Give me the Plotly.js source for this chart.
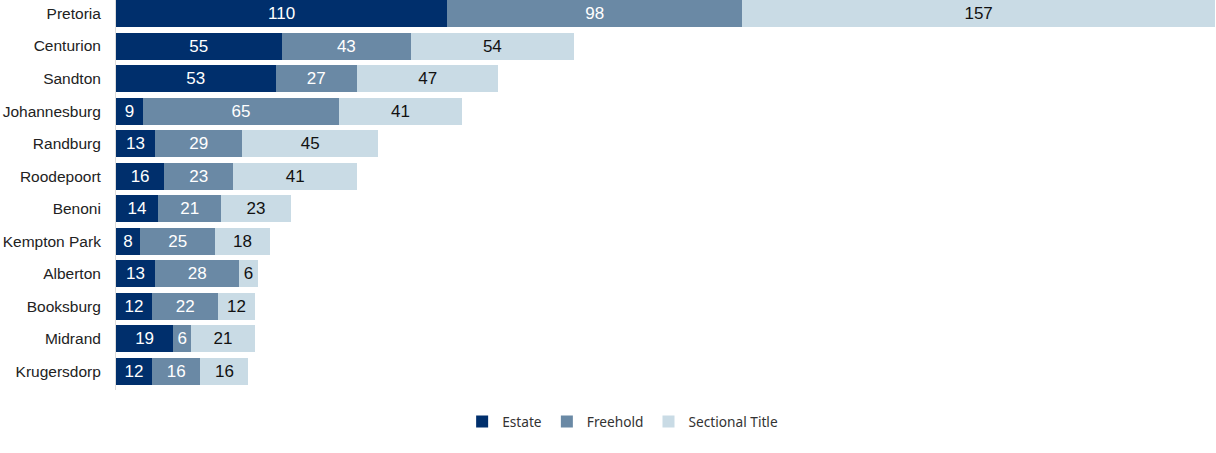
<!DOCTYPE html>
<html><head><meta charset="utf-8">
<script src="https://cdn.plot.ly/plotly-3.0.1.min.js"></script>
<style>html,body{margin:0;padding:0;background:#fff}#c{width:1216px;height:453px}</style>
</head><body><div id="c"></div>
<script>
const areas = ["Pretoria","Centurion","Sandton","Johannesburg","Randburg","Roodepoort","Benoni","Kempton Park","Alberton","Booksburg","Midrand","Krugersdorp"];
const estate = [110,55,53,9,13,16,14,8,13,12,19,12];
const freehold = [98,43,27,65,29,23,21,25,28,22,6,16];
const sectional = [157,54,47,41,45,41,23,18,6,12,21,16];

function tr(name, vals, color, txtColor){
  return {type:'bar', orientation:'h', name:name, y:areas, x:vals,
    marker:{color:color}, text:vals.map(String), textposition:'inside', insidetextanchor:'middle',
    textangle:0, constraintext:'none',
    textfont:{family:'Liberation Sans, Arial, sans-serif', size:17, color:txtColor},
    hoverinfo:'x+name'};
}
const data = [
  tr('Estate', estate, '#002f6c', '#ffffff'),
  tr('Freehold', freehold, '#6a89a5', '#ffffff'),
  tr('Sectional Title', sectional, '#c9dbe5', '#111111')
];
const layout = {
  width:1216, height:453, barmode:'stack', bargap:0.17,
  margin:{l:116, r:1, t:0, b:63},
  paper_bgcolor:'#fff', plot_bgcolor:'#fff',
  xaxis:{range:[0,365], visible:false, fixedrange:true},
  yaxis:{type:'category', range:[11.57,-0.415], showgrid:false, zeroline:false,
    showline:true, linecolor:'#dcdcdc', linewidth:1,
    ticks:'outside', ticklen:11, tickcolor:'rgba(0,0,0,0)',
    tickfont:{family:'Liberation Sans, Arial, sans-serif', size:15.5, color:'#222'}},
  showlegend:true,
  legend:{orientation:'h', x:0.461, xanchor:'center', y:-0.041, yanchor:'top',
    font:{family:'Noto Sans, sans-serif', size:13.7, color:'#333'}, traceorder:'normal',
    itemwidth:30, itemsizing:'constant'},
  uniformtext:{mode:false}
};
Plotly.newPlot('c', data, layout, {staticPlot:true, displayModeBar:false});
</script></body></html>
